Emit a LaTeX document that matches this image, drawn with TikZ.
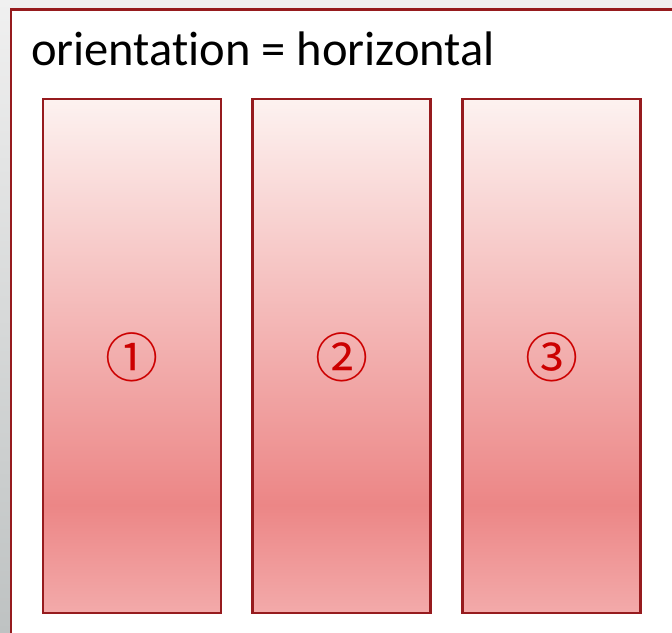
\documentclass[tikz,border=0pt]{standalone}
\usepackage{fontspec}
\setmainfont{Carlito}[Ligatures=NoCommon]
\newfontfamily\symfont{Noto Sans CJK JP}
\definecolor{frameRed}{HTML}{961B1E}
\definecolor{numRed}{HTML}{CC0000}
\definecolor{barTop}{HTML}{FDF2F0}
\definecolor{barMid}{HTML}{EC8686}
\definecolor{barLow}{HTML}{F3AAAA}
\definecolor{bgTop}{HTML}{F0F0F0}
\definecolor{bgLow}{HTML}{BEC2C2}
% the shape covers 25bp..75bp of the shading
\pgfdeclareverticalshading{barshade}{100bp}{%
  color(0bp)=(barLow); color(25bp)=(barLow); color(35.5bp)=(barMid);
  color(75bp)=(barTop); color(100bp)=(barTop)}
\tikzset{
  panel/.style={draw=frameRed, line width=2.6pt, fill=white},
  bar/.style={draw=frameRed, line width=2.6pt, shading=barshade,
    minimum width=178pt, minimum height=514pt, inner sep=0pt},
  num/.style={font=\symfont\fontsize{53}{53}\selectfont, text=numRed, inner sep=0pt},
  title/.style={font=\fontsize{48.5}{48.5}\selectfont, anchor=base west, inner sep=0pt}
}
\begin{document}
\begin{tikzpicture}[x=1pt,y=-1pt]
  \useasboundingbox (0,0) rectangle (672,632);
  \begin{scope}
    \clip (0,0) rectangle (672,632);
    \shade[top color=bgTop, bottom color=bgLow] (0,0) rectangle (672,632);
    \draw[panel] (11,9.5) rectangle (690,650);
  \end{scope}
  \node[title] (t) at (31,65) {orientation = horizontal};
  \node[bar] (b1) at (132,356) {};
  \node[bar] (b2) at (341.5,356) {};
  \node[bar] (b3) at (551.5,356) {};
  \node[num] (n1) at ([yshift=-1.5pt]b1.center) {①};
  \node[num] (n2) at ([yshift=-1.5pt]b2.center) {②};
  \node[num] (n3) at ([yshift=-1.5pt]b3.center) {③};
\end{tikzpicture}
\end{document}
